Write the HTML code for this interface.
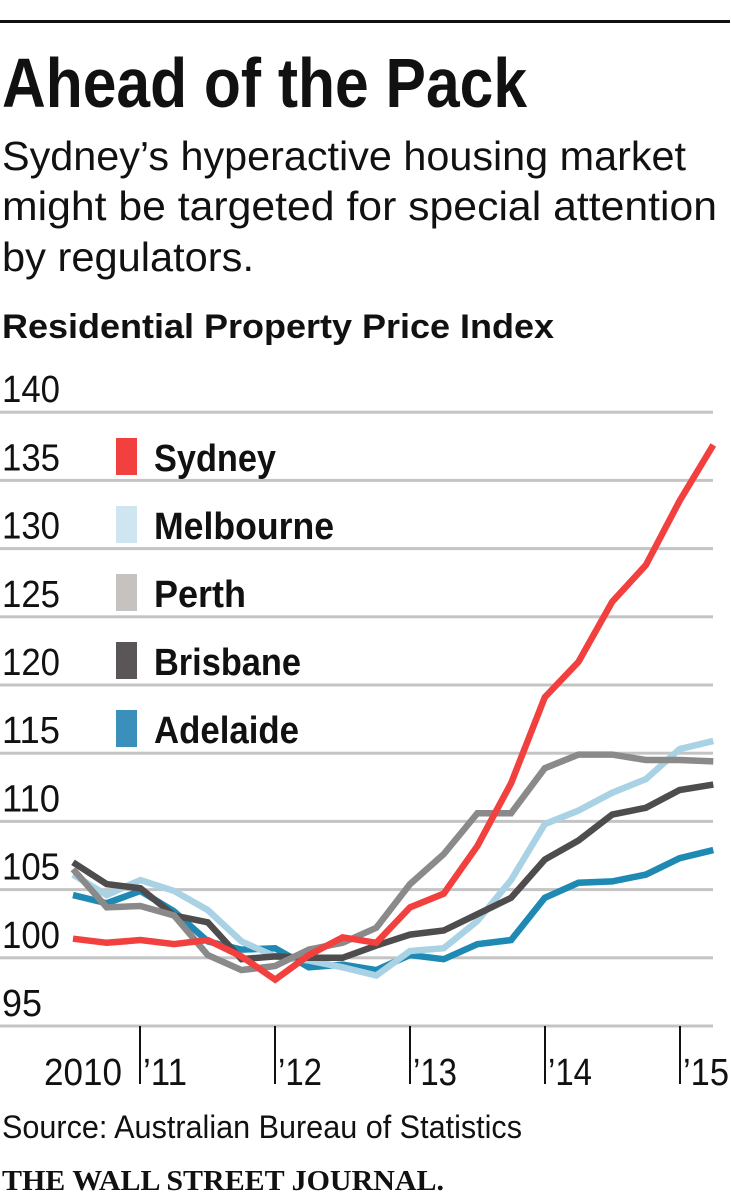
<!DOCTYPE html>
<html><head><meta charset="utf-8"><style>
html,body{margin:0;padding:0;background:#fff;}
svg{display:block;font-family:"Liberation Sans Narrow","Liberation Sans",sans-serif;}
</style></head><body>
<svg id="c" width="731" height="1200" viewBox="0 0 731 1200">
<rect x="0" y="20" width="730" height="3" fill="#111"/>
<text x="2" y="107" font-size="70" font-weight="bold" textLength="525" lengthAdjust="spacingAndGlyphs" fill="#111">Ahead of the Pack</text>
<g font-size="41" fill="#111">
<text x="2" y="170" textLength="684" lengthAdjust="spacingAndGlyphs">Sydney’s hyperactive housing market</text>
<text x="2" y="220" textLength="715" lengthAdjust="spacingAndGlyphs">might be targeted for special attention</text>
<text x="2" y="271" textLength="252" lengthAdjust="spacingAndGlyphs">by regulators.</text>
</g>
<text x="2" y="338" font-size="34" font-weight="bold" textLength="552" lengthAdjust="spacingAndGlyphs" fill="#111">Residential Property Price Index</text>
<g id="grid"></g><g id="lines"></g><g id="legend"></g><g id="xaxis"></g>
<text x="2" y="1138" font-size="32" fill="#111" textLength="520" lengthAdjust="spacingAndGlyphs">Source: Australian Bureau of Statistics</text>
<text x="2" y="1190" font-size="29" font-weight="bold" font-family="Liberation Serif,serif" fill="#111" textLength="442" lengthAdjust="spacingAndGlyphs">THE WALL STREET JOURNAL.</text>
</svg>
<script>
const yTicks=[95,100,105,110,115,120,125,130,135,140];
const xLabels=["2010","’11","’12","’13","’14","’15"];
const sydney=[101.4,101.1,101.3,101.0,101.3,100.1,98.4,100.2,101.5,101.1,103.7,104.7,108.2,112.8,119.1,121.7,126.1,128.8,133.5,137.6];
const melbourne=[106.1,104.6,105.7,104.9,103.5,101.2,100.1,99.8,99.3,98.7,100.5,100.7,102.7,105.7,109.8,110.8,112.1,113.1,115.3,115.9];
const perth=[106.5,103.7,103.8,103.1,100.2,99.1,99.4,100.6,101.1,102.2,105.4,107.6,110.6,110.6,113.9,114.9,114.9,114.5,114.5,114.4];
const brisbane=[107.0,105.4,105.1,103.1,102.6,99.9,100.1,100.0,100.0,100.9,101.7,102.0,103.2,104.4,107.2,108.6,110.5,111.0,112.3,112.7];
const adelaide=[104.6,104.0,104.9,103.4,101.2,100.6,100.7,99.3,99.5,99.1,100.2,99.9,101.0,101.3,104.4,105.5,105.6,106.1,107.3,107.9];
const NS="http://www.w3.org/2000/svg";
const y=v=>1026-(v-95)*13.64;
const x=i=>73+i*33.7;
function mk(tag,attrs,parent){const e=document.createElementNS(NS,tag);for(const k in attrs)e.setAttribute(k,attrs[k]);parent.appendChild(e);return e;}
const grid=document.getElementById('grid');
yTicks.forEach(v=>{
  const l=mk('rect',{x:0,y:y(v)-1.5,width:713,height:3,fill:'#c4c4c4'},grid);
  
  
  const t=mk('text',{x:2,y:y(v)-10,'font-size':38,fill:'#111',textLength:v>=100?58:40,lengthAdjust:'spacingAndGlyphs'},grid);
  t.textContent=v;
  
  
});
const series=[
 {name:'adelaide',label:'Adelaide',d:adelaide,c:'#1e8ab4',lc:'#3a8fbb'},
 {name:'melbourne',label:'Melbourne',d:melbourne,c:'#a9d3e5',lc:'#cfe5ef'},
 {name:'brisbane',label:'Brisbane',d:brisbane,c:'#4f4c4d',lc:'#5a5657'},
 {name:'perth',label:'Perth',d:perth,c:'#8a8a8a',lc:'#c5c2bf'},
 {name:'sydney',label:'Sydney',d:sydney,c:'#f2403f',lc:'#f2403f'}];
const lines=document.getElementById('lines');
series.forEach(s=>{
  const p=mk('polyline',{points:s.d.map((v,i)=>x(i)+','+y(v)).join(' '),fill:'none',stroke:s.c,'stroke-width':6.5,'stroke-linejoin':'miter'},lines);
  
  
});
const legendOrder=['sydney','melbourne','perth','brisbane','adelaide'];
const legendW={sydney:122,melbourne:180,perth:92,brisbane:147,adelaide:145};
const lg=document.getElementById('legend');
legendOrder.forEach((n,i)=>{
  const s=series.find(q=>q.name===n);const cy=457+i*68;
  const r=mk('rect',{x:116,y:cy-19,width:21,height:37,fill:s.lc},lg);
  
  
  const t=mk('text',{x:154,y:cy+14,'font-size':38,'font-weight':'bold',fill:'#111',textLength:legendW[n],lengthAdjust:'spacingAndGlyphs'},lg);
  t.textContent=s.label;
  
  
});
const xa=document.getElementById('xaxis');
xLabels.forEach((lab,i)=>{
  const tx=140+(i-1)*135;
  if(i>0){const l=mk('rect',{x:tx-1,y:1026,width:2,height:58,fill:'#111'},xa);
  
  }
  const t=mk('text',{x:i===0?44:tx+3,y:1085,'font-size':38,fill:'#111',textLength:i===0?78:(i===5?46:44),lengthAdjust:'spacingAndGlyphs'},xa);
  t.textContent=lab;
  
  
});
</script>
</body></html>
